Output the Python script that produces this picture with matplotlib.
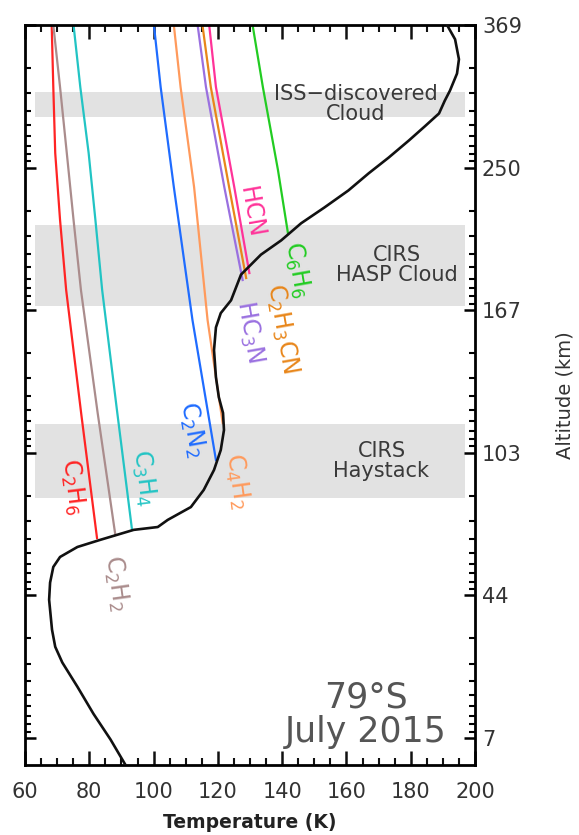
import numpy as np
import matplotlib
matplotlib.use('Agg')
import matplotlib.pyplot as plt
from matplotlib.ticker import FixedLocator, FixedFormatter, LogLocator, NullFormatter, MultipleLocator

############ data ############

# temperature profile, 79S July 2015 (T in K, log10 pressure)
profile_T = [191.3, 193.8, 195.0, 194.4, 192.2, 190.6, 188.8, 184.4, 179.4, 173.1,
             166.9, 160.6, 153.1, 145.9, 139.7, 133.4, 127.2, 124.1, 120.9, 119.4,
             118.8, 119.4, 120.3, 121.6, 121.9, 120.9, 118.8, 115.6, 111.6, 104.4,
             101.3, 93.8, 83.4, 76.3, 70.9, 68.8, 67.8, 67.5, 68.4, 69.4,
             71.6, 76.3, 81.3, 86.6, 91.3]
profile_logp = [-3.00, -2.90, -2.76, -2.66, -2.54, -2.47, -2.38, -2.29, -2.19, -2.07,
                -1.96, -1.84, -1.72, -1.61, -1.49, -1.39, -1.25, -1.07, -0.98, -0.88,
                -0.72, -0.53, -0.39, -0.28, -0.16, -0.02, 0.12, 0.26, 0.38, 0.47,
                0.52, 0.54, 0.61, 0.66, 0.73, 0.80, 0.91, 1.03, 1.24, 1.36,
                1.47, 1.64, 1.83, 2.01, 2.19]

# saturation vapour pressure curves
species = ['C$_2$H$_6$', 'C$_2$H$_2$', 'C$_3$H$_4$', 'C$_2$N$_2$', 'C$_4$H$_2$',
           'HC$_3$N', 'C$_2$H$_3$CN', 'HCN', 'C$_6$H$_6$']
sat_colors = ['#ff2424', '#aa8c8c', '#22c4c4', '#1f6cff', '#ff9a5c',
              '#9a70e0', '#e8861a', '#ff3399', '#22cc22']
sat_T = [
    [68.3, 68.8, 69.4, 70.9, 72.8, 77.5, 82.4],
    [68.8, 70.9, 73.0, 75.1, 77.4, 82.6, 88.1],
    [75.1, 77.2, 79.8, 81.9, 84.0, 88.6, 93.3],
    [100.1, 102.2, 106.3, 112.1, 119.4],
    [106.3, 108.4, 112.6, 116.8, 121.5],
    [113.7, 116.3, 122.0, 127.7],
    [115.2, 117.8, 123.5, 128.8],
    [117.3, 119.4, 125.1, 129.8],
    [130.8, 134.0, 138.7, 141.8],
]
sat_logp = [
    [-3.0, -2.565, -2.102, -1.633, -1.142, -0.272, 0.597],
    [-3.0, -2.565, -2.102, -1.633, -1.142, -0.28, 0.576],
    [-3.0, -2.565, -2.102, -1.633, -1.142, -0.30, 0.541],
    [-3.0, -2.565, -1.864, -0.931, 0.050],
    [-3.0, -2.565, -1.864, -0.931, -0.209],
    [-3.0, -2.565, -1.864, -1.212],
    [-3.0, -2.565, -1.864, -1.226],
    [-3.0, -2.565, -1.864, -1.261],
    [-3.0, -2.565, -1.983, -1.541],
]

# cloud layers (log10 pressure range)
band_names = ['ISS\u2212discovered\nCloud', 'CIRS\nHASP Cloud', 'CIRS\nHaystack']
band_top = [-2.53, -1.60, -0.20]
band_bottom = [-2.355, -1.03, 0.317]

# altitude labels at pressure decades
alt_logp = [-3, -2, -1, 0, 1, 2]
alt_km = ['369', '250', '167', '103', '44', '7']

############ plot ############

plt.rcParams['font.family'] = ['DejaVu Sans']
txt_gray = '#3a3a3a'

fig = plt.figure(figsize=(5.79, 8.35), dpi=100)
ax = fig.add_axes([0.0432, 0.0838, 0.7772, 0.8862])

for lo, hi in zip(band_top, band_bottom):
    ax.axhspan(10**lo, 10**hi, xmin=0.022, xmax=0.978, color='#e2e2e2', lw=0, zorder=0)

for T, lp, c in zip(sat_T, sat_logp, sat_colors):
    ax.plot(T, 10**np.array(lp), color=c, lw=1.6, zorder=2)

ax.plot(profile_T, 10**np.array(profile_logp), color='#111111', lw=1.9, zorder=3)

ax.set_yscale('log')
ax.set_xlim(60, 200)
ax.set_ylim(10**2.189, 1e-3)

# band labels
band_xy = [(162.8, -2.446), (175.6, -1.317), (170.9, 0.058)]
for name, (bx, by) in zip(band_names, band_xy):
    ax.text(bx, 10**by, name, ha='center', va='center', fontsize=15,
            color=txt_gray, linespacing=1.0, zorder=4)

# species labels, tilted along their curves
lab_xy = [(74.7, 0.240), (88.4, 0.913), (96.9, 0.177), (111.9, -0.160), (125.9, 0.198),
          (129.7, -0.847), (140.0, -0.875), (130.3, -1.689), (144.7, -1.282)]
lab_rot = [-83, -82, -83, -80, -82, -80, -80, -80, -80]
for name, c, (lx, ly), r in zip(species, sat_colors, lab_xy, lab_rot):
    ax.text(lx, 10**ly, name, rotation=r, rotation_mode='anchor', ha='center', va='center',
            fontsize=17, color=c, zorder=4)

ax.text(166.0, 10**(-3 + (697 - 25) / 142.6), '79\u00b0S', ha='center', va='center',
        fontsize=25, color='#555555')
ax.text(166.0, 10**(-3 + (732 - 25) / 142.6), 'July 2015', ha='center', va='center',
        fontsize=25, color='#555555')

# ticks
ax.xaxis.set_major_locator(MultipleLocator(20))
ax.xaxis.set_minor_locator(MultipleLocator(5))
ax.yaxis.set_major_locator(FixedLocator([10.0**v for v in alt_logp]))
ax.yaxis.set_major_formatter(FixedFormatter(alt_km))
ax.yaxis.set_minor_locator(LogLocator(base=10, subs=np.arange(2, 10)))
ax.yaxis.set_minor_formatter(NullFormatter())

ax.tick_params(axis='x', which='both', direction='in', top=True, bottom=True,
               labelsize=15, colors='#111111', pad=12, labelcolor='#333333')
ax.tick_params(axis='x', which='major', length=10, width=1.8)
ax.tick_params(axis='x', which='minor', length=5, width=1.5)
ax.tick_params(axis='y', which='both', direction='in', left=True, right=True,
               labelleft=False, labelright=True, labelsize=15, pad=5,
               labelcolor='#333333')
ax.tick_params(axis='y', which='major', length=8, width=1.8)
ax.tick_params(axis='y', which='minor', length=4, width=1.5)
for s in ax.spines.values():
    s.set_linewidth(2)

ax.set_xlabel('Temperature (K)', fontsize=13.5, fontweight='bold', color='#222222', labelpad=8)
ax.yaxis.set_label_position('right')
ax.set_ylabel('Altitude (km)', fontsize=14, color='#333333', labelpad=24)

plt.savefig('out.png', dpi=100)
